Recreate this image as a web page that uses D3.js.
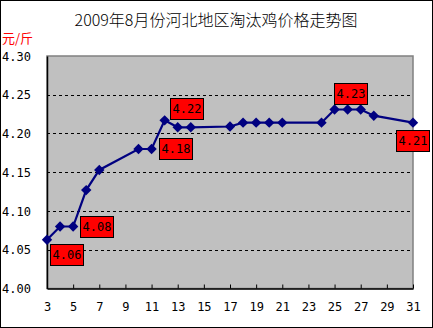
<!DOCTYPE html>
<html>
<head>
<meta charset="utf-8">
<script src="https://cdn.jsdelivr.net/npm/d3@7"></script>
<style>
  html, body { margin: 0; padding: 0; background: #fff; }
  svg { display: block; }
</style>
</head>
<body>
<script>
// Daily culled-hen prices, Hebei, August 2009
const days = [3, 4, 5, 6, 7, 10, 11, 12, 13, 14, 17, 18, 19, 20, 21, 24, 25, 26, 27, 28, 31];
const prices = [4.063, 4.08, 4.08, 4.127, 4.153, 4.18, 4.18, 4.217, 4.208, 4.208, 4.209,
                4.214, 4.214, 4.214, 4.214, 4.214, 4.231, 4.231, 4.231, 4.223, 4.214];
const xTicks = [3, 5, 7, 9, 11, 13, 15, 17, 19, 21, 23, 25, 27, 29, 31];
const yTicks = [4.00, 4.05, 4.10, 4.15, 4.20, 4.25, 4.30];
const titleText = "2009年8月份河北地区淘汰鸡价格走势图";
const unitText = "元/斤";

// Days whose value is called out, with the callout box offset from the point
const callouts = [
  { day: 3,  dx: 3,   dy: 4 },
  { day: 5,  dx: 7,   dy: -10 },
  { day: 11, dx: 7,   dy: -11 },
  { day: 12, dx: 5,   dy: -22 },
  { day: 26, dx: -14, dy: -26 },
  { day: 31, dx: -17, dy: 7 }
];

const W = 433, H = 328;
const plot = { left: 47, right: 413, top: 56, bottom: 288.5 };
const mono = "'DejaVu Sans Mono', 'Liberation Mono', monospace";
const cjk = "'Noto Sans CJK SC', sans-serif";

const svg = d3.select("body").append("svg").attr("width", W).attr("height", H);

svg.append("rect").attr("x", 0.5).attr("y", 0.5).attr("width", W - 1).attr("height", H - 1)
  .attr("fill", "#fff").attr("stroke", "#000");

const x = d3.scaleLinear().domain([3, 31]).range([plot.left, plot.right]);
const y = d3.scaleLinear().domain([4.00, 4.30]).range([plot.bottom, plot.top]);

// plot background
svg.append("rect")
  .attr("x", plot.left).attr("y", plot.top)
  .attr("width", plot.right - plot.left).attr("height", plot.bottom - plot.top)
  .attr("fill", "#c0c0c0").attr("stroke", "#808080").attr("stroke-width", 1.5);

// dashed gridlines
svg.append("g").selectAll("line")
  .data(yTicks.filter(v => v > 4.0 && v < 4.3))
  .join("line")
  .attr("x1", plot.left).attr("x2", plot.right)
  .attr("y1", d => Math.round(y(d)) + 0.5).attr("y2", d => Math.round(y(d)) + 0.5)
  .attr("stroke", "#000").attr("stroke-dasharray", "3,3");

// axes
const xAxis = svg.append("g")
  .attr("transform", `translate(0,${plot.bottom})`)
  .call(d3.axisBottom(x).tickValues(xTicks).tickSizeInner(-4).tickSizeOuter(0).tickPadding(14));
const yAxis = svg.append("g")
  .attr("transform", `translate(${plot.left},0)`)
  .call(d3.axisLeft(y).tickValues(yTicks).tickFormat(d3.format(".2f")).tickSize(0).tickPadding(16));

[xAxis, yAxis].forEach(g => {
  g.select(".domain").attr("stroke", "#000").attr("stroke-width", 1.5);
  g.selectAll("line").attr("stroke", "#000");
  g.selectAll("text").attr("font-family", mono).attr("font-size", 12).attr("fill", "#000");
});
yAxis.selectAll(".tick text").attr("dy", "0.35em");

// price line
const pts = days.map((d, i) => ({ day: d, price: prices[i] }));
svg.append("path")
  .datum(pts)
  .attr("fill", "none")
  .attr("stroke", "#000080")
  .attr("stroke-width", 2.2)
  .attr("d", d3.line().x(d => x(d.day)).y(d => y(d.price)));

// diamond markers
svg.append("g").selectAll("path")
  .data(pts)
  .join("path")
  .attr("transform", d => `translate(${x(d.day)},${y(d.price)})`)
  .attr("d", "M0,-5.2L5.2,0L0,5.2L-5.2,0Z")
  .attr("fill", "#000080");

// value callouts
const fmt = d3.format(".2f");
const boxW = 33, boxH = 21;
const cg = svg.append("g").selectAll("g")
  .data(callouts)
  .join("g")
  .attr("transform", c => {
    const i = days.indexOf(c.day);
    return `translate(${Math.round(x(c.day) + c.dx) + 0.5},${Math.round(y(prices[i]) + c.dy) + 0.5})`;
  });
cg.append("rect").attr("width", boxW).attr("height", boxH)
  .attr("fill", "#ff0000").attr("stroke", "#000");
cg.append("text")
  .attr("x", boxW / 2).attr("y", boxH / 2).attr("dy", "0.35em")
  .attr("text-anchor", "middle")
  .attr("font-family", mono).attr("font-size", 12).attr("fill", "#000")
  .text(c => fmt(prices[days.indexOf(c.day)]));

// title and unit
svg.append("text")
  .attr("x", 216).attr("y", 20).attr("dy", "0.35em")
  .attr("text-anchor", "middle")
  .attr("font-family", cjk).attr("font-size", 16).attr("font-weight", 300).attr("fill", "#000")
  .text(titleText);
svg.append("text")
  .attr("x", 2).attr("y", 38).attr("dy", "0.35em")
  .attr("font-family", cjk).attr("font-size", 13).attr("fill", "#ff0000")
  .text(unitText);
</script>
</body>
</html>
